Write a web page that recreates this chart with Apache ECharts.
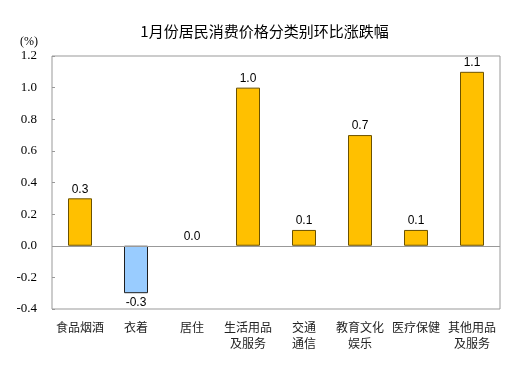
<!DOCTYPE html>
<html><head><meta charset="utf-8">
<script src="https://cdn.jsdelivr.net/npm/echarts@6/dist/echarts.min.js"></script>
<style>html,body{margin:0;padding:0;background:#fff}#c{width:529px;height:378px}</style>
</head><body><div id="c"></div>
<script>
const categories = ['食品烟酒','衣着','居住','生活用品\n及服务','交通\n通信','教育文化\n娱乐','医疗保健','其他用品\n及服务'];
const values = [0.3, -0.3, 0.0, 1.0, 0.1, 0.7, 0.1, 1.1];
const yTicks = {min: -0.4, max: 1.2, interval: 0.2};
const titleText = '1月份居民消费价格分类别环比涨跌幅';
const unitText = '(%)';

const chart = echarts.init(document.getElementById('c'));
const data = values.map(v => ({
  value: v,
  itemStyle: v < 0 ? {color: '#99CCFF', borderColor: '#1F1F1F', borderWidth: 1}
                    : {color: '#FFC000', borderColor: '#6B5200', borderWidth: v === 0 ? 0 : 1},
  label: {position: v < 0 ? 'bottom' : 'top'}
}));
chart.setOption({
  animation: false,
  title: {text: titleText, left: 'center', top: 19,
    textStyle: {fontFamily: 'Noto Sans CJK SC', fontSize: 15, fontWeight: 'normal', color: '#000'}},
  graphic: [{type: 'text', left: 20, top: 36,
    style: {text: unitText, font: '12px "Liberation Serif"', fill: '#000'}}],
  grid: {left: 52, right: 29, top: 56, bottom: 69, show: true, borderColor: '#999', borderWidth: 1},
  xAxis: {type: 'category', data: categories,
    axisLine: {show: false, onZero: false}, axisTick: {show: false},
    axisLabel: {interval: 0, margin: 10, fontFamily: 'Noto Sans CJK SC', fontSize: 12, color: '#222', lineHeight: 16}},
  yAxis: {type: 'value', min: yTicks.min, max: yTicks.max, interval: yTicks.interval,
    axisLine: {show: false}, splitLine: {show: false},
    axisTick: {show: true, inside: true, length: 3, lineStyle: {color: '#999'}},
    axisLabel: {margin: 15, fontFamily: 'Liberation Serif', fontSize: 13, color: '#000',
      formatter: v => v.toFixed(1)}},
  series: [{type: 'bar', data: data, barWidth: 24,
    label: {show: true, fontFamily: 'Liberation Sans', fontSize: 12, color: '#000', distance: 3,
      formatter: p => p.value.toFixed(1)},
    markLine: {silent: true, symbol: 'none', label: {show: false},
      lineStyle: {color: '#999', type: 'solid', width: 1}, data: [{yAxis: 0}]}
  }]
});
</script></body></html>
